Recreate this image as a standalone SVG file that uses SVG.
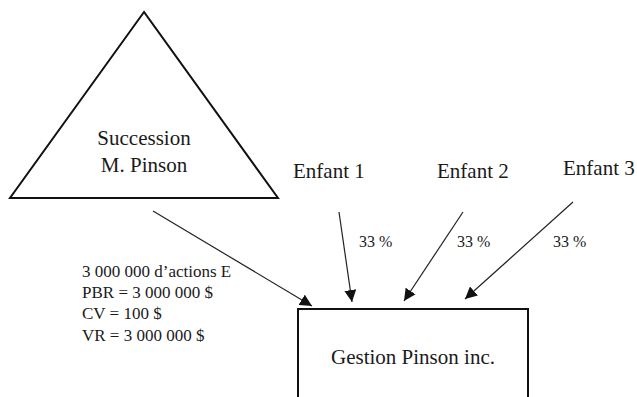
<svg xmlns="http://www.w3.org/2000/svg" width="637" height="397" viewBox="0 0 637 397" font-family="Liberation Serif, serif">
<style>
text{fill:#1a1a1a}
.big{font-size:21px}
.sm{font-size:16px}
.info{font-size:17px}
.shape{fill:#fff;stroke:#111;stroke-width:2}
.conn{stroke:#222;stroke-width:1.2;fill:none;marker-end:url(#ah)}
</style>
<defs>
<marker id="ah" markerWidth="12" markerHeight="12" refX="10" refY="5" orient="auto" markerUnits="userSpaceOnUse" viewBox="0 0 10 10">
<path d="M0,0 L10,5 L0,10 z" fill="#111"/>
</marker>
</defs>
<rect width="637" height="397" fill="#fff"/>
<g id="succession">
<polygon class="shape" points="144,12 10,198 278,198"/>
<text class="big" x="144" y="145" text-anchor="middle">Succession</text>
<text class="big" x="144" y="172" text-anchor="middle">M. Pinson</text>
</g>
<g id="gestion">
<rect class="shape" x="298" y="309" width="230" height="100"/>
<text class="big" x="413" y="364" text-anchor="middle">Gestion Pinson inc.</text>
</g>
<g id="enfant1"><text class="big" x="293" y="178">Enfant 1</text></g>
<g id="enfant2"><text class="big" x="437" y="178">Enfant 2</text></g>
<g id="enfant3"><text class="big" x="563" y="175">Enfant 3</text></g>
<g id="info">
<text class="info" x="82" y="277">3 000 000 d’actions E</text>
<text class="info" x="82" y="298">PBR = 3 000 000 $</text>
<text class="info" x="82" y="319">CV = 100 $</text>
<text class="info" x="82" y="341">VR = 3 000 000 $</text>
</g>
<g id="connectors">
<line class="conn" x1="153" y1="211" x2="312" y2="306"/>
<line class="conn" x1="339" y1="212" x2="352" y2="302"/>
<line class="conn" x1="463" y1="212" x2="404" y2="301"/>
<line class="conn" x1="573" y1="202" x2="465" y2="299"/>
<text class="sm" x="359" y="247">33 %</text>
<text class="sm" x="457" y="247">33 %</text>
<text class="sm" x="553" y="247">33 %</text>
</g>
</svg>
